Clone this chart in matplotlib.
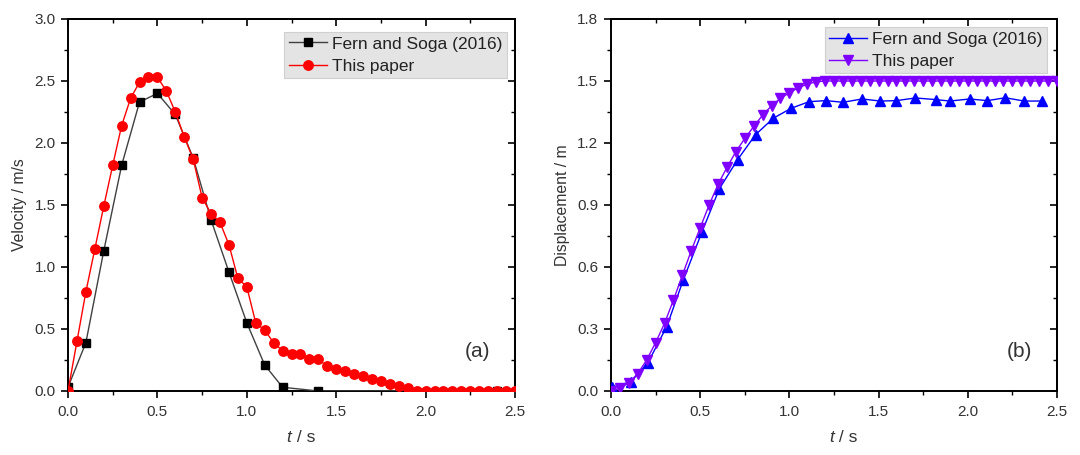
import numpy as np
import matplotlib
matplotlib.use("Agg")
import matplotlib.pyplot as plt
from matplotlib.ticker import MultipleLocator, FormatStrFormatter

plt.rcParams['font.family'] = ['Liberation Sans', 'DejaVu Sans']

# ---- Panel (a): velocity ----
t_fern_v = [0.0, 0.1, 0.2, 0.3, 0.4, 0.5, 0.6, 0.7, 0.8, 0.9, 1.0, 1.1, 1.2, 1.4, 2.4]
v_fern = [0.03, 0.39, 1.13, 1.82, 2.33, 2.40, 2.23, 1.88, 1.38, 0.96, 0.55, 0.21, 0.03, 0.0, 0.0]

t_paper_v = [0.00, 0.05, 0.10, 0.15, 0.20, 0.25, 0.30, 0.35, 0.40, 0.45, 0.50,
             0.55, 0.60, 0.65, 0.70, 0.75, 0.80, 0.85, 0.90, 0.95, 1.00,
             1.05, 1.10, 1.15, 1.20, 1.25, 1.30, 1.35, 1.40, 1.45, 1.50,
             1.55, 1.60, 1.65, 1.70, 1.75, 1.80, 1.85, 1.90, 1.95, 2.00,
             2.05, 2.10, 2.15, 2.20, 2.25, 2.30, 2.35, 2.40, 2.45, 2.50]
v_paper = [0.0, 0.40, 0.80, 1.145, 1.49, 1.82, 2.14, 2.36, 2.49, 2.53, 2.53,
           2.42, 2.25, 2.05, 1.87, 1.56, 1.43, 1.36, 1.18, 0.91, 0.84,
           0.55, 0.49, 0.39, 0.325, 0.296, 0.296, 0.255, 0.255, 0.20, 0.177,
           0.16, 0.14, 0.12, 0.10, 0.078, 0.059, 0.04, 0.024, 0.0, 0.0,
           0.0, 0.0, 0.0, 0.0, 0.0, 0.0, 0.0, 0.0, 0.0, 0.0]

# ---- Panel (b): displacement ----
t_fern_d = [0.006, 0.112, 0.207, 0.312, 0.405, 0.51, 0.607, 0.71, 0.81, 0.91,
            1.01, 1.11, 1.205, 1.30, 1.407, 1.51, 1.60, 1.706, 1.82, 1.90,
            2.01, 2.11, 2.21, 2.315, 2.416]
d_fern = [0.018, 0.045, 0.137, 0.311, 0.537, 0.77, 0.978, 1.12, 1.24, 1.32,
          1.368, 1.40, 1.405, 1.397, 1.413, 1.403, 1.405, 1.418, 1.41, 1.403,
          1.413, 1.405, 1.419, 1.403, 1.403]

t_paper_d = t_paper_v
d_paper = [0.0, 0.013, 0.04, 0.084, 0.15, 0.234, 0.327, 0.44, 0.56, 0.679, 0.79,
           0.90, 1.00, 1.082, 1.158, 1.222, 1.28, 1.335, 1.38, 1.416, 1.443,
           1.467, 1.485, 1.496, 1.50, 1.50, 1.50, 1.50, 1.50, 1.50, 1.50,
           1.50, 1.50, 1.50, 1.50, 1.50, 1.50, 1.50, 1.50, 1.50, 1.50,
           1.50, 1.50, 1.50, 1.50, 1.50, 1.50, 1.50, 1.50, 1.50, 1.50]

legend_labels = ["Fern and Soga (2016)", "This paper"]

fig = plt.figure(figsize=(10.8, 4.55), dpi=100)
ax1 = fig.add_axes([68/1080, 1-391/455, (515-68)/1080, (391-19)/455])
ax2 = fig.add_axes([611/1080, 1-391/455, (1057-611)/1080, (391-19)/455])

ax1.plot(t_fern_v, v_fern, color='#404040', lw=1.0, marker='s', ms=6.2,
         mfc='black', mec='black', label=legend_labels[0], zorder=3)
ax1.plot(t_paper_v, v_paper, color='red', lw=1.0, marker='o', ms=6.8,
         mfc='red', mec='red', label=legend_labels[1], zorder=4)

ax2.plot(t_fern_d, d_fern, color='blue', lw=1.0, marker='^', ms=7.2,
         mfc='blue', mec='blue', label=legend_labels[0], zorder=3)
ax2.plot(t_paper_d, d_paper, color='#8000ff', lw=1.0, marker='v', ms=7.2,
         mfc='#8000ff', mec='#8000ff', label=legend_labels[1], zorder=4)

def style(ax, ymax, ymajor, yminor, ylabel, tag, leg_anchor):
    ax.set_xlim(0, 2.5)
    ax.set_ylim(0, ymax)
    ax.xaxis.set_major_locator(MultipleLocator(0.5))
    ax.xaxis.set_minor_locator(MultipleLocator(0.25))
    ax.yaxis.set_major_locator(MultipleLocator(ymajor))
    ax.yaxis.set_minor_locator(MultipleLocator(yminor))
    ax.xaxis.set_major_formatter(FormatStrFormatter('%.1f'))
    ax.yaxis.set_major_formatter(FormatStrFormatter('%.1f'))
    for s in ax.spines.values():
        s.set_linewidth(1.4)
    ax.tick_params(which='both', direction='out', top=False, right=False,
                   labelsize=11, colors='black', labelcolor='#333333')
    ax.tick_params(axis='x', which='major', length=5, width=1.2, pad=5)
    ax.tick_params(axis='y', which='major', length=5, width=1.2, pad=4)
    ax.tick_params(which='minor', length=3, width=1.0)
    sec = ax.secondary_xaxis('top')
    sec.xaxis.set_major_locator(MultipleLocator(0.5))
    sec.xaxis.set_minor_locator(MultipleLocator(0.25))
    sec.tick_params(which='both', direction='in', labeltop=False)
    sec.tick_params(which='major', length=5, width=1.2)
    sec.tick_params(which='minor', length=3, width=1.0)
    sec.spines['top'].set_linewidth(1.4)
    secy = ax.secondary_yaxis('right')
    secy.yaxis.set_major_locator(MultipleLocator(ymajor))
    secy.yaxis.set_minor_locator(MultipleLocator(yminor))
    secy.tick_params(which='both', direction='in', labelright=False)
    secy.tick_params(which='major', length=5, width=1.2)
    secy.tick_params(which='minor', length=3, width=1.0)
    secy.spines['right'].set_linewidth(1.4)
    ax.set_ylabel(ylabel, fontsize=11.3, color='#333333', labelpad=5)
    ax.text(0.915, 0.105, tag, transform=ax.transAxes, fontsize=15,
            ha='center', va='center', color='#333333')
    leg = ax.legend(loc='upper right', bbox_to_anchor=leg_anchor, fontsize=12.5,
                    frameon=True, fancybox=False, borderpad=0.25, handlelength=2.2,
                    handletextpad=0.3, labelspacing=0.42, borderaxespad=0.0)
    leg.get_frame().set_facecolor('#e4e4e4')
    leg.get_frame().set_edgecolor('#d0d0d0')
    leg.get_frame().set_alpha(1.0)
    leg.get_frame().set_linewidth(0.8)
    for txt in leg.get_texts():
        txt.set_color('#222222')
    # x label with italic t
    ax.text(0.5, -0.126, 't', transform=ax.transAxes, fontsize=12.5, style='italic',
            ha='right', va='center', color='#333333')
    ax.text(0.5, -0.126, ' / s', transform=ax.transAxes, fontsize=12.5,
            ha='left', va='center', color='#333333')

style(ax1, 3.0, 0.5, 0.25, 'Velocity / m/s', '(a)', (0.982, 0.965))
style(ax2, 1.8, 0.3, 0.15, 'Displacement / m', '(b)', (0.978, 0.978))

fig.savefig('out.png', dpi=100)
